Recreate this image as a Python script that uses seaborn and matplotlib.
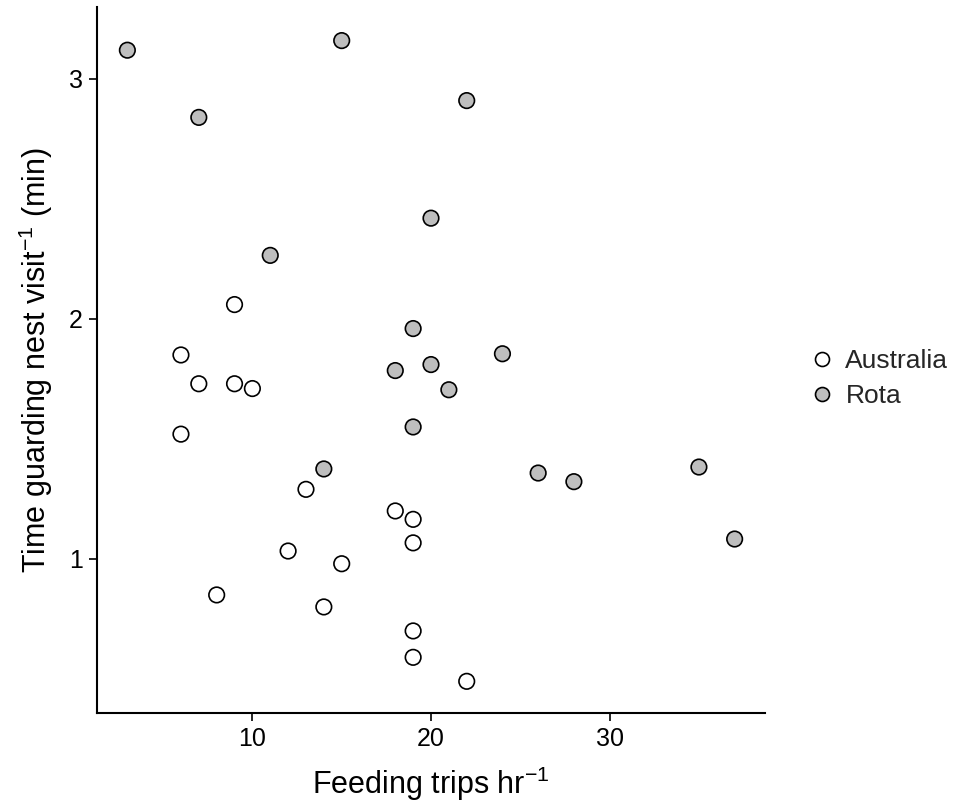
import matplotlib
matplotlib.use("Agg")
import matplotlib.pyplot as plt
import seaborn as sns
import pandas as pd

aus_x = [9, 6, 7, 9, 10, 6, 13, 18, 19, 19, 12, 15, 8, 14, 19, 19, 22]
aus_y = [2.06, 1.85, 1.73, 1.73, 1.71, 1.52, 1.29, 1.20, 1.165, 1.067, 1.033, 0.98, 0.85, 0.80, 0.70, 0.59, 0.49]
rota_x = [3, 15, 7, 22, 20, 11, 19, 24, 20, 18, 21, 19, 14, 26, 28, 35, 37]
rota_y = [3.12, 3.16, 2.84, 2.91, 2.42, 2.265, 1.96, 1.855, 1.81, 1.785, 1.705, 1.55, 1.375, 1.358, 1.322, 1.383, 1.083]
groups = ["Australia", "Rota"]
colors = {"Australia": "white", "Rota": "#BEBEBE"}

df = pd.DataFrame({
    "x": aus_x + rota_x,
    "y": aus_y + rota_y,
    "site": [groups[0]] * len(aus_x) + [groups[1]] * len(rota_x),
})

sns.set_theme(style="ticks")
plt.rcParams["font.family"] = ["Liberation Sans", "DejaVu Sans"]
plt.rcParams["mathtext.fontset"] = "custom"
plt.rcParams["mathtext.rm"] = "Liberation Sans"
plt.rcParams["mathtext.default"] = "regular"

fig = plt.figure(figsize=(9.54, 8.09), dpi=100)
ax = fig.add_axes([97 / 954, 1 - 713 / 809, 668 / 954, 706 / 809])

sns.scatterplot(data=df, x="x", y="y", hue="site", palette=colors, hue_order=groups,
                s=125, edgecolor="black", linewidth=1.2, ax=ax, legend=True, zorder=3)

ax.set_xlim(1.3, 38.7)
ax.set_ylim(0.358, 3.3)
ax.set_xticks([10, 20, 30])
ax.set_yticks([1, 2, 3])
ax.set_xticklabels(["10", "20", "30"])
ax.set_yticklabels(["1", "2", "3"])
ax.tick_params(axis="both", labelsize=18, length=6, width=1.2, color="black",
               labelcolor="black", pad=4)
for side in ["top", "right"]:
    ax.spines[side].set_visible(False)
for side in ["left", "bottom"]:
    ax.spines[side].set_linewidth(1.5)
    ax.spines[side].set_color("black")

ax.set_xlabel("Feeding trips hr$^{-1}$", fontsize=22, labelpad=10, color="black")
ax.set_ylabel("Time guarding nest visit$^{-1}$ (min)", fontsize=22, labelpad=10, color="black")

handles, labels = ax.get_legend_handles_labels()
ax.legend(handles=handles, labels=labels, loc="center left",
          bbox_to_anchor=(809 / 954, 1 - 378.5 / 809), bbox_transform=fig.transFigure,
          frameon=False, fontsize=19, title=None, borderpad=0, borderaxespad=0,
          handlelength=1.0, handletextpad=0.38, labelspacing=0.42, markerscale=0.9)

fig.savefig("out.png", dpi=100)
